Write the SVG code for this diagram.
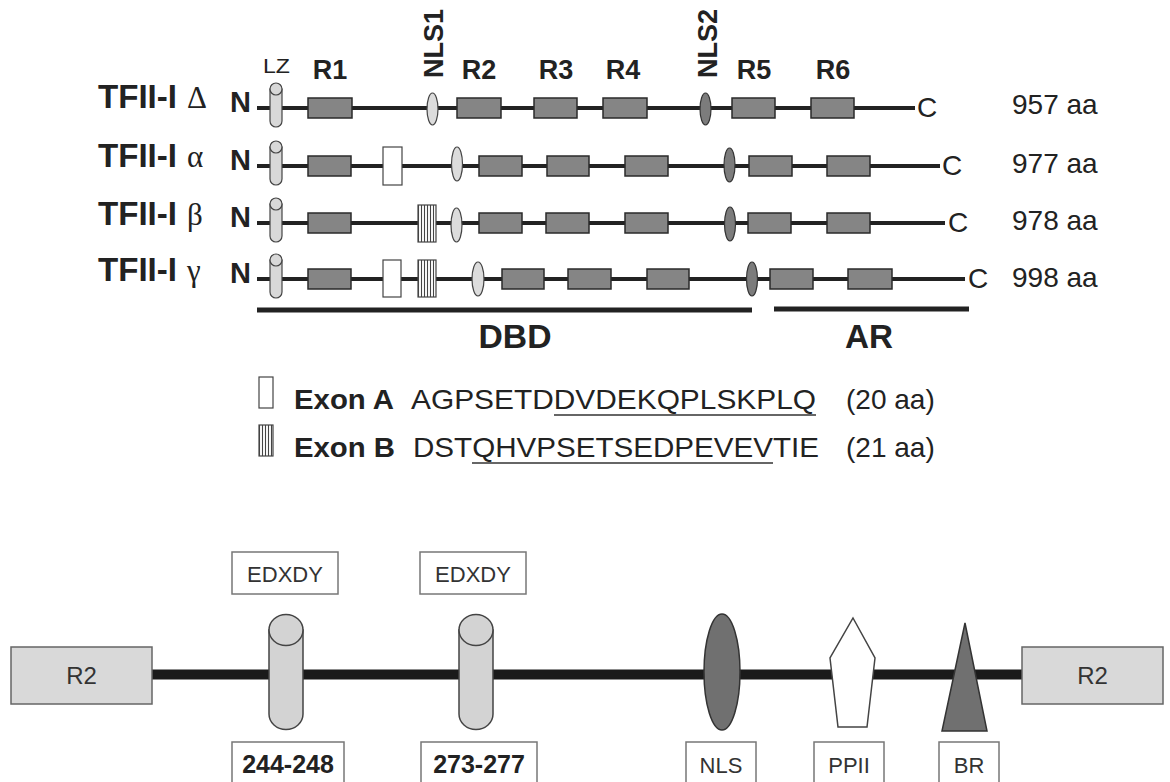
<svg xmlns="http://www.w3.org/2000/svg" width="1170" height="782" viewBox="0 0 1170 782">
<defs>
<pattern id="stripes" width="3" height="10" patternUnits="userSpaceOnUse"><rect width="3" height="10" fill="#fff"/><line x1="1.5" y1="0" x2="1.5" y2="10" stroke="#444" stroke-width="1.1"/></pattern>
<g id="lzcyl"><path d="M-6,-19 V13 A6,6 0 0 0 6,13 V-19 Z" class="lz"/><ellipse cx="0" cy="-19" rx="6" ry="6" class="lz"/></g>
<g id="bigcyl"><path d="M-17,-44 V40 A17,15.5 0 0 0 17,40 V-44 Z" class="cyl"/><ellipse cx="0" cy="-44" rx="17" ry="15.5" class="cyl"/></g>
</defs>
<style>
text{font-family:"Liberation Sans",Arial,sans-serif;fill:#222}
.lbl{font-weight:bold;font-size:27px}
.lzt{font-size:20px}
.name{font-weight:bold;font-size:34px}
.greek{font-family:"Liberation Serif","Times New Roman",serif;font-weight:normal;font-size:31px}
.nt{font-weight:bold;font-size:29px}
.dom{font-weight:bold;font-size:33px}
.end{font-size:28px}
.bb{stroke:#222;stroke-width:4;fill:none}
.bar{stroke:#222;stroke-width:5;fill:none}
.rep{fill:#858585;stroke:#2a2a2a;stroke-width:1.5}
.nls1{fill:#dcdcdc;stroke:#444;stroke-width:1.2}
.nls2{fill:#7c7c7c;stroke:#333;stroke-width:1.2}
.lz{fill:#d8d8d8;stroke:#444;stroke-width:1.2}
.exa{fill:#fff;stroke:#444;stroke-width:1.2}
.exb{fill:url(#stripes);stroke:#444;stroke-width:1.2}
.ex{font-weight:bold;font-size:28px}
.seq{font-size:28px}
.ul{stroke:#333;stroke-width:1.5}
.thick{stroke:#1a1a1a;stroke-width:10;fill:none}
.r2{fill:#d9d9d9;stroke:#666;stroke-width:1.5}
.cyl{fill:#d3d3d3;stroke:#444;stroke-width:1.5}
.dark{fill:#707070;stroke:#333;stroke-width:1.5}
.wbox{fill:#fff;stroke:#777;stroke-width:1.5}
.bt{font-size:22px;fill:#333}
.r2t{font-size:24px;fill:#333}
.bn{font-size:25px;font-weight:bold;fill:#222}
</style>
<rect width="1170" height="782" fill="#fff"/>

<g id="connectors">
<line class="bb" x1="257" y1="108" x2="915" y2="108"/>
<line class="bb" x1="257" y1="166" x2="940" y2="166"/>
<line class="bb" x1="257" y1="223" x2="945" y2="223"/>
<line class="bb" x1="257" y1="279" x2="965" y2="279"/>
<line class="thick" x1="152" y1="674.5" x2="1022" y2="674.5"/>
</g>

<g id="header-labels">
<text class="lzt" x="263" y="73" textLength="27" lengthAdjust="spacingAndGlyphs">LZ</text>
<text class="lbl" x="330" y="79" text-anchor="middle">R1</text>
<text class="lbl" transform="translate(443,78) rotate(-90)">NLS1</text>
<text class="lbl" x="479" y="79" text-anchor="middle">R2</text>
<text class="lbl" x="556" y="79" text-anchor="middle">R3</text>
<text class="lbl" x="623" y="79" text-anchor="middle">R4</text>
<text class="lbl" transform="translate(717,78) rotate(-90)">NLS2</text>
<text class="lbl" x="754" y="79" text-anchor="middle">R5</text>
<text class="lbl" x="833" y="79" text-anchor="middle">R6</text>
</g>

<g id="row-delta">
<text class="name" x="98" y="108" textLength="79" lengthAdjust="spacingAndGlyphs">TFII-I</text>
<text class="greek" x="187" y="108">Δ</text>
<text class="nt" x="230" y="112">N</text>
<use href="#lzcyl" x="276" y="108"/>
<rect class="rep" x="308" y="98" width="44" height="20"/>
<ellipse class="nls1" cx="432.5" cy="109" rx="5.5" ry="16"/>
<rect class="rep" x="457" y="98" width="44" height="20"/>
<rect class="rep" x="534" y="98" width="43" height="20"/>
<rect class="rep" x="603" y="98" width="44" height="20"/>
<ellipse class="nls2" cx="705.5" cy="109" rx="5.5" ry="16"/>
<rect class="rep" x="732" y="98" width="43" height="20"/>
<rect class="rep" x="811" y="98" width="43" height="20"/>
<text class="end" x="917" y="117">C</text>
<text class="end" x="1012" y="114">957 aa</text>
</g>

<g id="row-alpha">
<text class="name" x="98" y="167" textLength="79" lengthAdjust="spacingAndGlyphs">TFII-I</text>
<text class="greek" x="187" y="167">α</text>
<text class="nt" x="230" y="170">N</text>
<use href="#lzcyl" x="276" y="166"/>
<rect class="rep" x="308" y="156" width="43" height="20"/>
<rect class="exa" x="383" y="147" width="19" height="38"/>
<ellipse class="nls1" cx="457" cy="164" rx="5.5" ry="17"/>
<rect class="rep" x="479" y="156" width="43" height="20"/>
<rect class="rep" x="547" y="156" width="42" height="20"/>
<rect class="rep" x="625" y="156" width="43" height="20"/>
<ellipse class="nls2" cx="729.5" cy="165" rx="5.5" ry="17"/>
<rect class="rep" x="749" y="156" width="43" height="20"/>
<rect class="rep" x="827" y="156" width="43" height="20"/>
<text class="end" x="942" y="175">C</text>
<text class="end" x="1012" y="173">977 aa</text>
</g>

<g id="row-beta">
<text class="name" x="98" y="225" textLength="79" lengthAdjust="spacingAndGlyphs">TFII-I</text>
<text class="greek" x="187" y="225">β</text>
<text class="nt" x="230" y="227">N</text>
<use href="#lzcyl" x="276" y="223"/>
<rect class="rep" x="308" y="213" width="43" height="20"/>
<rect class="exb" x="418" y="205" width="18" height="37"/>
<ellipse class="nls1" cx="456.5" cy="225" rx="5.5" ry="17"/>
<rect class="rep" x="479" y="213" width="43" height="20"/>
<rect class="rep" x="546" y="213" width="43" height="20"/>
<rect class="rep" x="625" y="213" width="43" height="20"/>
<ellipse class="nls2" cx="730" cy="224" rx="5.5" ry="17"/>
<rect class="rep" x="748" y="213" width="43" height="20"/>
<rect class="rep" x="827" y="213" width="43" height="20"/>
<text class="end" x="948" y="232">C</text>
<text class="end" x="1012" y="230">978 aa</text>
</g>

<g id="row-gamma">
<text class="name" x="98" y="281" textLength="79" lengthAdjust="spacingAndGlyphs">TFII-I</text>
<text class="greek" x="187" y="281">γ</text>
<text class="nt" x="230" y="283">N</text>
<use href="#lzcyl" x="276" y="279"/>
<rect class="rep" x="308" y="269" width="43" height="20"/>
<rect class="exa" x="383" y="260" width="18" height="37"/>
<rect class="exb" x="418" y="260" width="18" height="37"/>
<ellipse class="nls1" cx="478" cy="279" rx="6" ry="17"/>
<rect class="rep" x="502" y="269" width="42" height="20"/>
<rect class="rep" x="568" y="269" width="43" height="20"/>
<rect class="rep" x="647" y="269" width="42" height="20"/>
<ellipse class="nls2" cx="752" cy="279" rx="5.5" ry="17"/>
<rect class="rep" x="770" y="269" width="43" height="20"/>
<rect class="rep" x="848" y="269" width="44" height="20"/>
<text class="end" x="968" y="288">C</text>
<text class="end" x="1012" y="287">998 aa</text>
</g>

<g id="domains">
<line class="bar" x1="257" y1="310" x2="752" y2="310"/>
<line class="bar" x1="774" y1="309" x2="969" y2="309"/>
<text class="dom" x="515" y="348" text-anchor="middle" textLength="73" lengthAdjust="spacingAndGlyphs">DBD</text>
<text class="dom" x="869" y="348" text-anchor="middle" textLength="48" lengthAdjust="spacingAndGlyphs">AR</text>
</g>

<g id="exon-a">
<rect class="exa" x="259" y="377" width="14" height="31"/>
<text class="ex" x="294" y="409" textLength="100" lengthAdjust="spacingAndGlyphs">Exon A</text>
<text class="seq" x="411" y="409" textLength="405" lengthAdjust="spacingAndGlyphs">AGPSETDDVDEKQPLSKPLQ</text>
<line class="ul" x1="554" y1="415" x2="816" y2="415"/>
<text class="seq" x="846" y="409">(20 aa)</text>
</g>

<g id="exon-b">
<rect class="exb" x="259" y="425" width="14" height="31"/>
<text class="ex" x="294" y="457" textLength="101" lengthAdjust="spacingAndGlyphs">Exon B</text>
<text class="seq" x="413" y="457" textLength="406" lengthAdjust="spacingAndGlyphs">DSTQHVPSETSEDPEVEVTIE</text>
<line class="ul" x1="472" y1="463" x2="773" y2="463"/>
<text class="seq" x="846" y="457">(21 aa)</text>
</g>

<g id="r2-left">
<rect class="r2" x="11" y="647" width="141" height="57"/>
<text class="r2t" x="81.5" y="684" text-anchor="middle">R2</text>
</g>
<g id="edxdy-1">
<rect class="wbox" x="232" y="552" width="106" height="42"/>
<text class="bt" x="285" y="582" text-anchor="middle">EDXDY</text>
<use href="#bigcyl" x="286" y="674"/>
<rect class="wbox" x="232" y="742" width="112" height="50"/>
<text class="bn" x="288" y="773" text-anchor="middle">244-248</text>
</g>
<g id="edxdy-2">
<rect class="wbox" x="420" y="552" width="106" height="42"/>
<text class="bt" x="473" y="582" text-anchor="middle">EDXDY</text>
<use href="#bigcyl" x="476" y="674"/>
<rect class="wbox" x="421" y="742" width="116" height="50"/>
<text class="bn" x="479" y="773" text-anchor="middle">273-277</text>
</g>
<g id="nls">
<ellipse class="dark" cx="722" cy="672" rx="18" ry="58"/>
<rect class="wbox" x="686" y="742" width="70" height="50"/>
<text class="bt" x="721" y="773" text-anchor="middle">NLS</text>
</g>
<g id="ppii">
<polygon points="853,618 875,658 867,727 838,727 830,658" fill="#fff" stroke="#444" stroke-width="1.5"/>
<rect class="wbox" x="814" y="742" width="70" height="50"/>
<text class="bt" x="849" y="773" text-anchor="middle">PPII</text>
</g>
<g id="br">
<polygon points="965,623 987,731 942,731" class="dark"/>
<rect class="wbox" x="939" y="742" width="60" height="50"/>
<text class="bt" x="969" y="773" text-anchor="middle">BR</text>
</g>
<g id="r2-right">
<rect class="r2" x="1022" y="647" width="141" height="57"/>
<text class="r2t" x="1092.5" y="684" text-anchor="middle">R2</text>
</g>
</svg>
